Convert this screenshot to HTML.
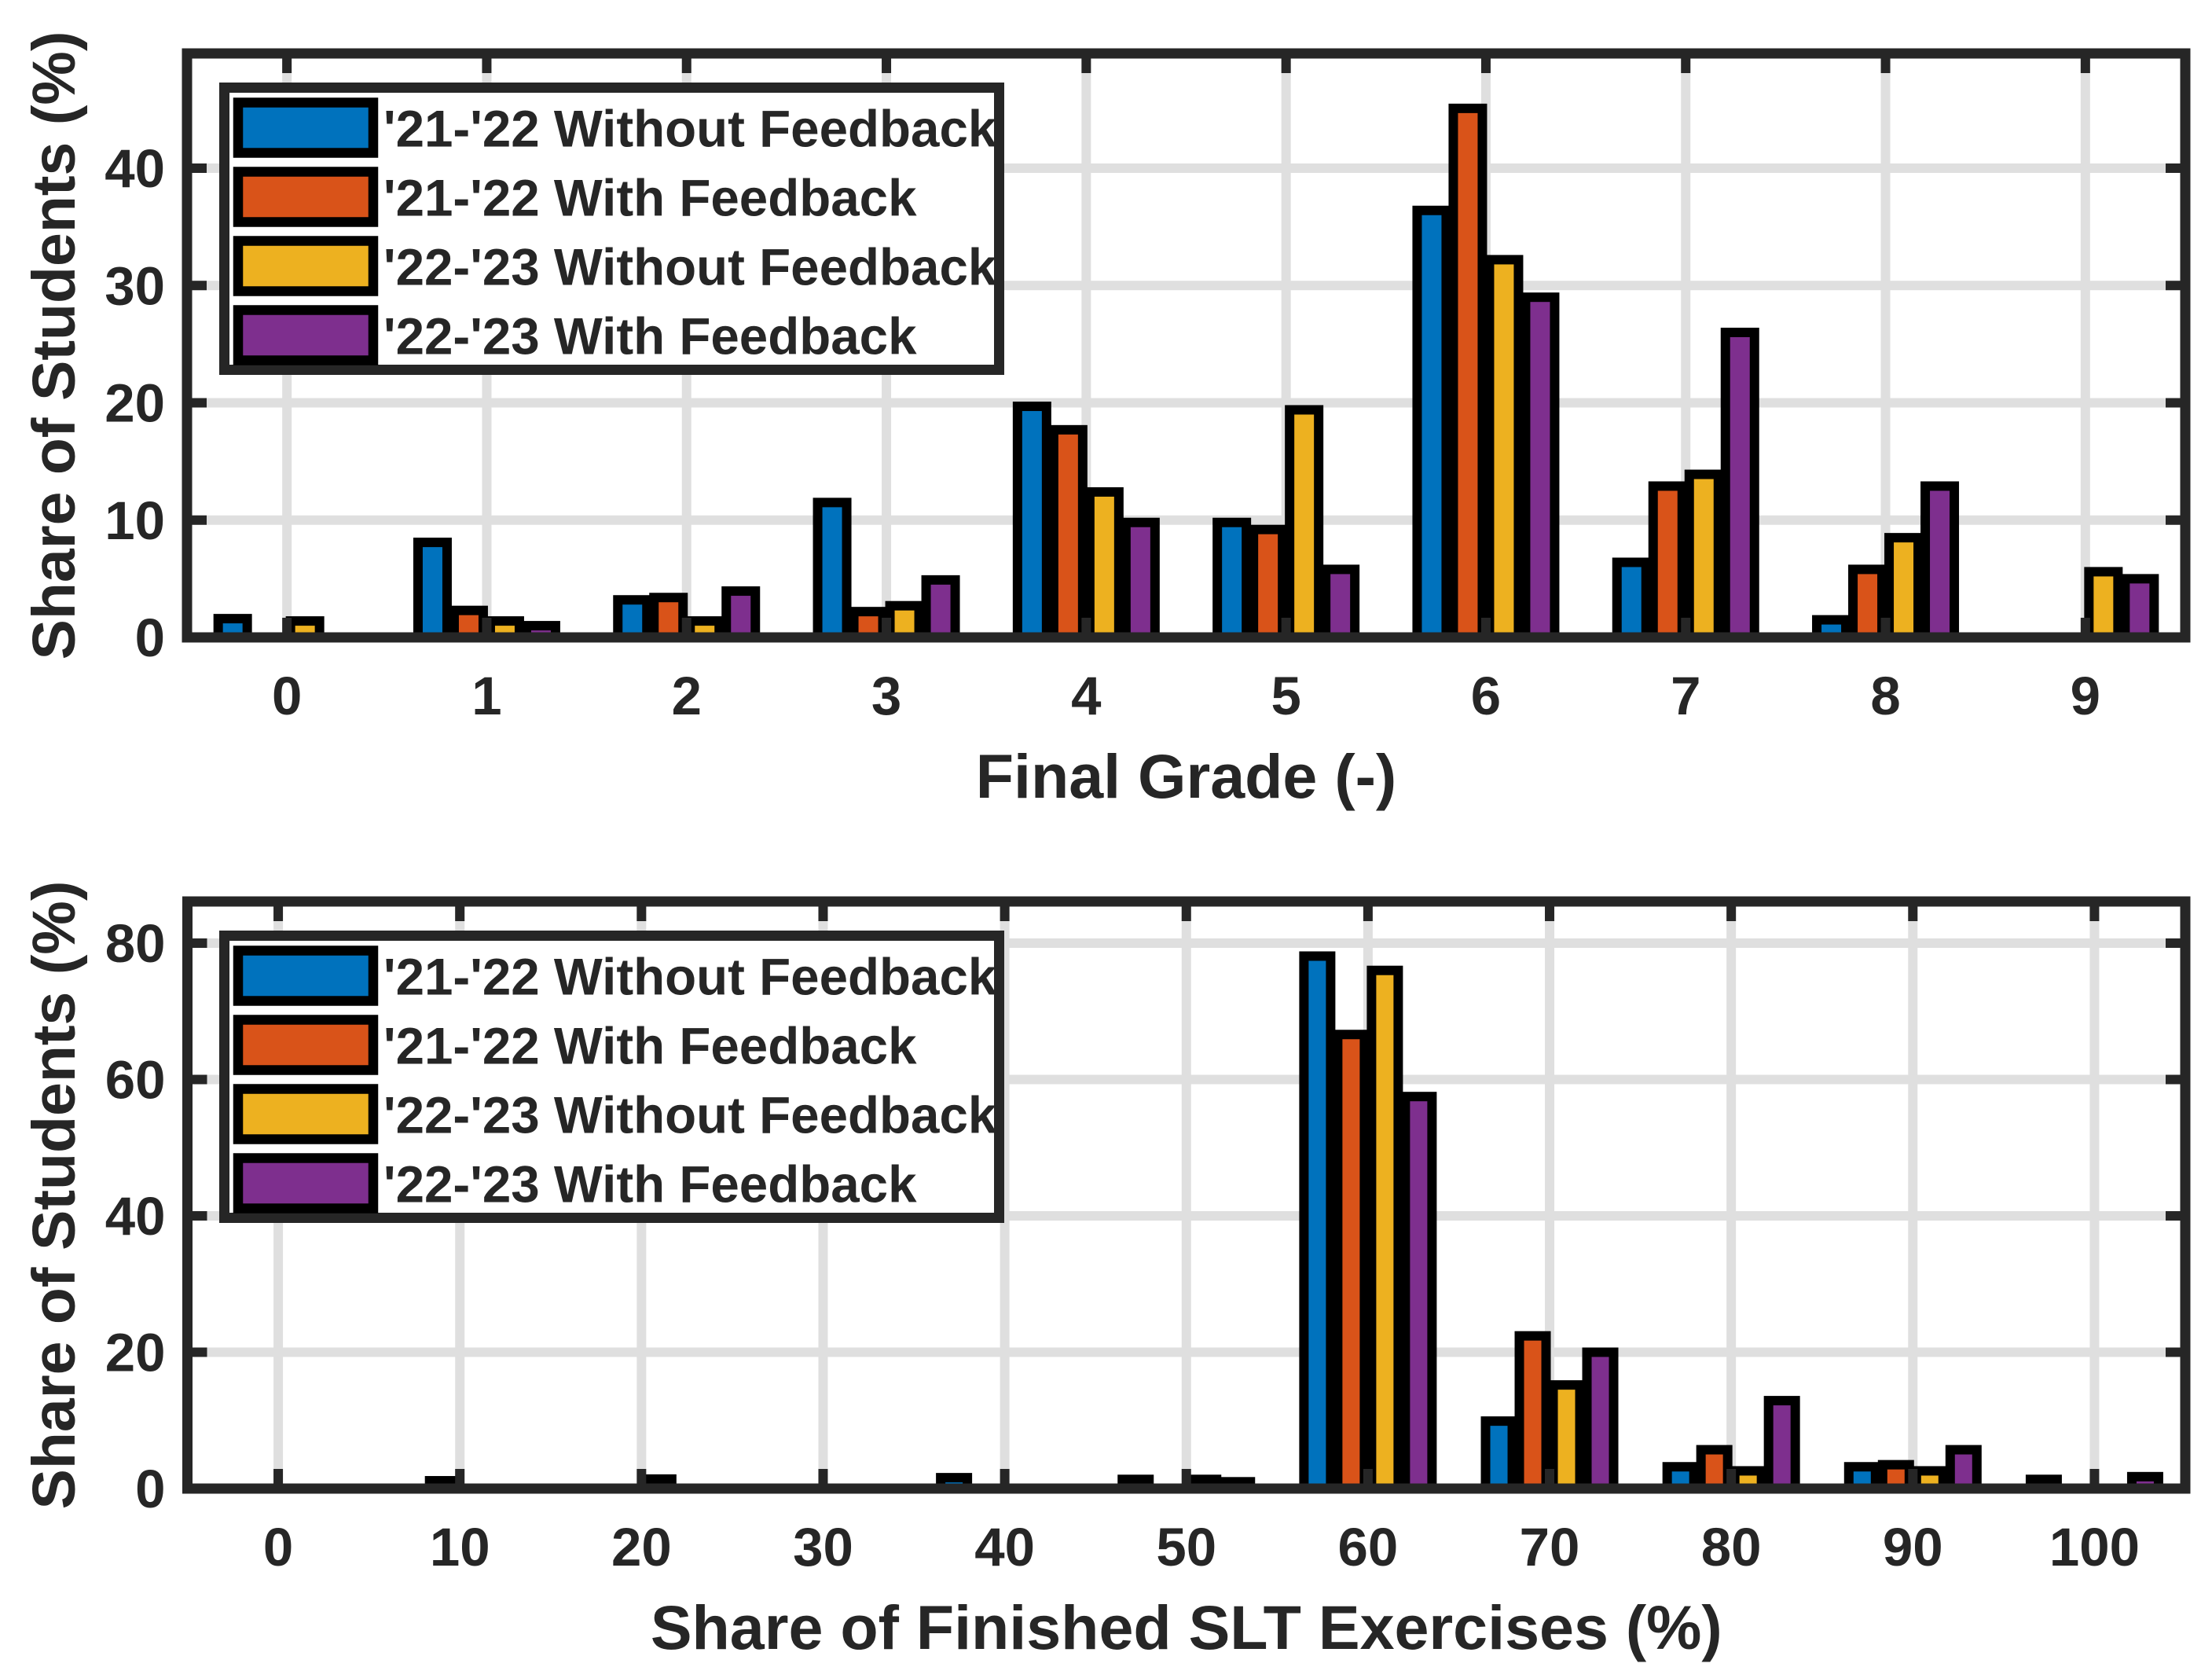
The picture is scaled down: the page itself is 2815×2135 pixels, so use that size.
<!DOCTYPE html>
<html><head><meta charset="utf-8">
<style>
html,body{margin:0;padding:0;background:#fff;}
svg{display:block;}
text{font-family:"Liberation Sans",Arial,sans-serif;font-weight:bold;fill:#262626;}
</style></head>
<body>
<svg id="fig" width="2815" height="2135" viewBox="0 0 2815 2135" xmlns="http://www.w3.org/2000/svg">
<rect x="0" y="0" width="2815" height="2135" fill="#fff"/>
</svg>
<script>
// ---- Data: top chart (Final Grade) ----
const gradeCats = [0,1,2,3,4,5,6,7,8,9];
const g2122NoFb = [1.6, 8.1, 3.2, 11.5, 19.7, 9.8, 36.4, 6.4, 1.5, 0];
const g2122Fb   = [0, 2.3, 3.4, 2.2, 17.7, 9.2, 45.1, 12.9, 5.8, 0];
const g2223NoFb = [1.4, 1.4, 1.4, 2.7, 12.4, 19.4, 32.2, 13.9, 8.5, 5.6];
const g2223Fb   = [0, 1.0, 3.95, 4.9, 9.8, 5.8, 29.0, 26.0, 12.9, 5.0];
const topYTicks = [0,10,20,30,40];
// ---- Data: bottom chart (Share of Finished SLT Exercises) ----
const sltCats = [0,10,20,30,40,50,60,70,80,90,100];
const s2122NoFb = [0, 0, 0, 0, 1.6, 1.35, 78.1, 9.9, 3.2, 3.2, 1.35];
const s2122Fb   = [0, 1.15, 0, 0, 0, 0, 66.6, 22.4, 5.7, 3.5, 0];
const s2223NoFb = [0, 0, 1.4, 0, 0, 1.35, 76.0, 15.2, 2.6, 2.6, 0];
const s2223Fb   = [0, 0, 0, 0, 0, 1.0, 57.5, 20.0, 12.9, 5.7, 1.75];
const botYTicks = [0,20,40,60,80];
const seriesNames = ["'21-'22 Without Feedback","'21-'22 With Feedback","'22-'23 Without Feedback","'22-'23 With Feedback"];
const colors = ["#0072BD","#D95319","#EDB120","#7E2F8E"];

const NS="http://www.w3.org/2000/svg";
const svg=document.getElementById('fig');
function el(tag,attrs,parent){const e=document.createElementNS(NS,tag);for(const k in attrs)e.setAttribute(k,attrs[k]);(parent||svg).appendChild(e);return e;}

function drawPanel(cfg){
  const g=el('g',{});
  
  
  const L=cfg.L,R=cfg.R,T=cfg.T,B=cfg.B;
  const xs=v=>L+(v-cfg.xmin)/(cfg.xmax-cfg.xmin)*(R-L);
  const ys=v=>cfg.y0px-(v)*cfg.yUnit;
  cfg.cats.forEach(c=>{const l=el('line',{x1:xs(c),x2:xs(c),y1:T,y2:B,stroke:'#dfdfdf','stroke-width':12},g);
    });
  cfg.yTicks.forEach(t=>{const l=el('line',{x1:L,x2:R,y1:ys(t),y2:ys(t),stroke:'#dfdfdf','stroke-width':12},g);
    });
  const series=cfg.series;
  const offs=[-1.5,-0.5,0.5,1.5];
  series.forEach((vals,si)=>{
    vals.forEach((v,ci)=>{
      if(v<=0)return;
      const cx=xs(cfg.cats[ci])+offs[si]*cfg.pitch;
      const r=el('rect',{x:cx-cfg.bw/2,y:ys(v),width:cfg.bw,height:ys(0)-ys(v),fill:colors[si],stroke:'#000','stroke-width':12},g);
      
      
    });
  });
  cfg.cats.forEach(c=>{
    el('line',{x1:xs(c),x2:xs(c),y1:B,y2:B-25,stroke:'#262626','stroke-width':12},g);
    el('line',{x1:xs(c),x2:xs(c),y1:T,y2:T+25,stroke:'#262626','stroke-width':12},g);
    const t=el('text',{x:xs(c),y:cfg.y0px+98,'font-size':69,'text-anchor':'middle'},g);
    t.textContent=c;
    
    
  });
  cfg.yTicks.forEach(v=>{
    el('line',{x1:L,x2:L+25,y1:ys(v),y2:ys(v),stroke:'#262626','stroke-width':12},g);
    el('line',{x1:R,x2:R-25,y1:ys(v),y2:ys(v),stroke:'#262626','stroke-width':12},g);
    const t=el('text',{x:L-28,y:ys(v)+24,'font-size':69,'text-anchor':'end'},g);
    t.textContent=v;
    
    
  });
  const f=el('rect',{x:L,y:T,width:R-L,height:B-T,fill:'none',stroke:'#262626','stroke-width':13},g);
  
  
  const xt=el('text',{x:(L+R)/2,y:cfg.y0px+204,'font-size':79,'text-anchor':'middle'},g);
  xt.textContent=cfg.xTitle;
  
  
  const cy=(T+B)/2;
  const yt=el('text',{x:0,y:0,'font-size':77,'text-anchor':'middle',transform:`translate(95,${cy}) rotate(-90)`},g);
  yt.textContent='Share of Students (%)';
  
  
  const dy=cfg.legOff;
  const lg=el('g',{},g);
  
  
  el('rect',{x:285.5,y:111.5+dy,width:986,height:359,fill:'#fff',stroke:'#262626','stroke-width':13},lg);
  seriesNames.forEach((n,i)=>{
    const yc=162.5+i*88+dy;
    const e=el('g',{},lg);
    
    
    el('rect',{x:303,y:yc-32,width:172,height:64,fill:colors[i],stroke:'#000','stroke-width':12.5},e);
    const t=el('text',{x:488,y:yc+24,'font-size':65.5,fill:'#000'},e);
    t.textContent=n;
  });
}

drawPanel({name:'final-grade-chart',L:238,R:2781,T:68,B:811,xmin:-0.5,xmax:9.5,y0px:811,yUnit:14.925,
  cats:gradeCats,yTicks:topYTicks,series:[g2122NoFb,g2122Fb,g2223NoFb,g2223Fb],pitch:46,bw:37,
  xTitle:'Final Grade (-)',legOff:0});
drawPanel({name:'slt-exercises-chart',L:238.5,R:2781,T:1147,B:1894,xmin:-5,xmax:105,y0px:1894,yUnit:8.675,
  cats:sltCats,yTicks:botYTicks,series:[s2122NoFb,s2122Fb,s2223NoFb,s2223Fb],pitch:43,bw:34,
  xTitle:'Share of Finished SLT Exercises (%)',legOff:1079});
</script>
</body></html>
